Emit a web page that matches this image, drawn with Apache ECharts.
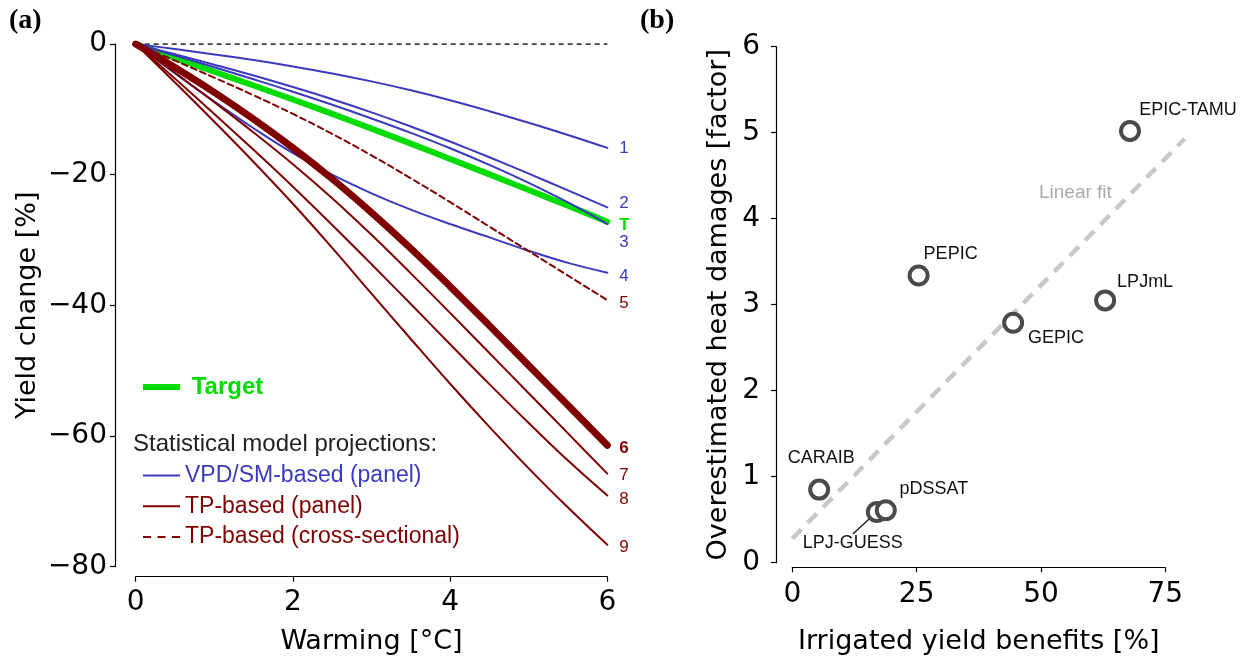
<!DOCTYPE html>
<html><head><meta charset="utf-8">
<script src="https://cdn.jsdelivr.net/npm/echarts@6/dist/echarts.min.js"></script>
<style>html,body{margin:0;padding:0;background:#fff}#c{width:1250px;height:664px}</style>
</head><body><div id="c"></div>
<script>
// ---------- Panel (a) data ----------
const warming = [0, 0.5, 1, 1.5, 2, 2.5, 3, 3.5, 4, 4.5, 5, 5.5, 6];
const vpd1   = [0, -0.77, -1.59, -2.46, -3.43, -4.5, -5.72, -7.09, -8.61, -10.28, -12.05, -13.92, -15.9];
const vpd2   = [0, -1.56, -3.17, -4.83, -6.59, -8.45, -10.46, -12.62, -14.93, -17.34, -19.85, -22.41, -25.0];
const vpd3   = [0, -1.75, -3.55, -5.4, -7.3, -9.3, -11.4, -13.6, -15.95, -18.5, -21.25, -24.25, -27.55];
const vpd4   = [0, -4.5, -8.8, -12.9, -16.7, -20.0, -22.85, -25.35, -27.55, -29.6, -31.65, -33.5, -35.0];
const target = [0, -2.15, -4.25, -6.35, -8.5, -10.7, -12.95, -15.25, -17.6, -19.95, -22.35, -24.75, -27.2];
const tpCross = [0, -2.55, -5.15, -7.85, -10.7, -13.75, -17.05, -20.55, -24.2, -27.95, -31.7, -35.45, -39.2];
const tp6    = [0, -3.6, -7.4, -11.5, -15.9, -20.65, -25.8, -31.3, -37.1, -43.1, -49.2, -55.3, -61.4];
const tp7    = [0, -4.4, -8.9, -13.55, -18.4, -23.6, -29.2, -35.1, -41.15, -47.3, -53.45, -59.6, -65.75];
const tp8    = [0, -5.3, -10.7, -16.2, -21.85, -27.7, -33.7, -39.8, -45.95, -52.05, -58.0, -63.75, -69.1];
const tp9    = [0, -5.9, -11.9, -18.05, -24.45, -31.2, -38.2, -45.15, -52.0, -58.6, -64.95, -70.95, -76.65];
const zeroX = [0, 6];
const zeroY = [0, 0];
const xTicksA = [0, 2, 4, 6];
const yTicksA = [-80, -60, -40, -20, 0];

// ---------- Panel (b) data ----------
const models = ['EPIC-TAMU', 'PEPIC', 'LPJmL', 'GEPIC', 'CARAIB', 'LPJ-GUESS', 'pDSSAT'];
const irrigatedBenefit = [67.9, 25.4, 62.9, 44.4, 5.4, 17.0, 18.8];
const heatFactor = [5.02, 3.34, 3.05, 2.79, 0.85, 0.59, 0.61];
const fitX = [0, 78.9];
const fitY = [0.28, 4.93];
const xTicksB = [0, 25, 50, 75];
const xDataMaxB = 80;           // plotting range (fit line runs past the last tick)
const yTicksB = [0, 1, 2, 3, 4, 5, 6];

// ---------- styles / positions (kept separate from data) ----------
const BLUE = '#3a3abf', RED = '#800000', GREEN = '#00dc00';
const labelOffsetB = {
  'EPIC-TAMU': [58, -21], 'PEPIC': [32, -21], 'LPJmL': [40, -18], 'GEPIC': [43, 15],
  'CARAIB': [2, -32], 'LPJ-GUESS': [-24, 31], 'pDSSAT': [48, -21]
};
const SOLID_ICON = 'path://M0,0h37v2h-37z';
const DASH_ICON = 'path://M0,0h8v2h-8z M14.5,0h8v2h-8z M29,0h8v2h-8z';

const pairs = (xs, ys) => xs.map((x, i) => [x, ys[i]]);
const minus = v => String(v).replace('-', '\u2212');

function curve(name, ys, color, width, dash, lbl, dy, bold) {
  return {
    type: 'line', name: name, xAxisIndex: 0, yAxisIndex: 0,
    data: pairs(warming, ys), smooth: 0.4, symbol: 'none', showSymbol: false,
    lineStyle: { color: color, width: width, type: dash || 'solid', cap: 'round' },
    itemStyle: { color: color },
    endLabel: {
      show: true, formatter: lbl, color: color, distance: 12, offset: [0, dy],
      fontFamily: 'Liberation Sans', fontSize: 17, fontWeight: bold ? 'bold' : 'normal'
    },
    emphasis: { disabled: true }, silent: true
  };
}

const axisCommon = {
  type: 'value', splitLine: { show: false },
  axisLine: { show: true, onZero: false, lineStyle: { color: '#000', width: 1.2 } },
  axisTick: { show: true, length: 5, lineStyle: { color: '#000', width: 1.2 } },
  nameLocation: 'middle',
  nameTextStyle: { fontFamily: 'DejaVu Sans', fontSize: 27, color: '#000' }
};
const tickLbl = { fontFamily: 'DejaVu Sans', fontSize: 28, color: '#000' };
const gridBTop = 46.7, gridBH = 516, gridBLeft = 792.3, gridBW = 373;

const option = {
  animation: false,
  backgroundColor: '#fff',
  title: [
    { text: '(a)', left: 9, top: 7, padding: 0,
      textStyle: { fontFamily: 'Liberation Serif', fontWeight: 'bold', fontSize: 28, color: '#000' } },
    { text: '(b)', left: 640, top: 7, padding: 0,
      textStyle: { fontFamily: 'Liberation Serif', fontWeight: 'bold', fontSize: 28, color: '#000' } },
    { text: 'Statistical model projections:', left: 133, top: 432, padding: 0,
      textStyle: { fontFamily: 'Liberation Sans', fontWeight: 'normal', fontSize: 24, color: '#222' } },
    { text: 'Linear fit', left: 1039, top: 183, padding: 0,
      textStyle: { fontFamily: 'Liberation Sans', fontWeight: 'normal', fontSize: 19, color: '#aaaaaa' } }
  ],
  legend: [
    { data: [{ name: 'Target', icon: 'rect', textStyle: { color: GREEN } }],
      formatter: ' {name}', left: 143, top: 375, padding: 0, orient: 'vertical',
      itemWidth: 37, itemHeight: 6, selectedMode: false,
      textStyle: { fontFamily: 'Liberation Sans', fontWeight: 'bold', fontSize: 24, lineHeight: 24 } },
    { data: [
        { name: 'VPD/SM-based (panel)', icon: SOLID_ICON, itemStyle: { color: BLUE }, textStyle: { color: BLUE } },
        { name: 'TP-based (panel)', icon: SOLID_ICON, itemStyle: { color: RED }, textStyle: { color: RED } },
        { name: 'TP-based (cross-sectional)', icon: DASH_ICON, itemStyle: { color: RED }, textStyle: { color: RED } }
      ],
      left: 143, top: 464, padding: 0, orient: 'vertical', itemGap: 7.8,
      itemWidth: 37, itemHeight: 2, selectedMode: false,
      textStyle: { fontFamily: 'Liberation Sans', fontSize: 23, lineHeight: 20 } }
  ],
  grid: [
    { left: 135.7, top: 44, width: 471.6, height: 522.7 },
    { left: gridBLeft, top: gridBTop, width: gridBW * xDataMaxB / xTicksB[xTicksB.length - 1], height: gridBH },
    { left: gridBLeft, top: gridBTop, width: gridBW, height: gridBH }
  ],
  xAxis: [
    Object.assign({}, axisCommon, {
      gridIndex: 0, min: xTicksA[0], max: xTicksA[xTicksA.length - 1], interval: 2, offset: 10,
      name: 'Warming [°C]', nameGap: 52,
      axisLabel: Object.assign({ margin: 12 }, tickLbl)
    }),
    { type: 'value', gridIndex: 1, min: 0, max: xDataMaxB, show: false },
    Object.assign({}, axisCommon, {
      gridIndex: 2, min: xTicksB[0], max: xTicksB[xTicksB.length - 1], interval: 25, offset: 4.6,
      name: 'Irrigated yield benefits [%]', nameGap: 61,
      axisLabel: Object.assign({ margin: 13 }, tickLbl)
    })
  ],
  yAxis: [
    Object.assign({}, axisCommon, {
      gridIndex: 0, min: yTicksA[0], max: yTicksA[yTicksA.length - 1], interval: 20, offset: 20.7,
      name: 'Yield change [%]', nameGap: 74,
      axisLabel: Object.assign({ margin: 8, formatter: minus }, tickLbl)
    }),
    Object.assign({}, axisCommon, {
      gridIndex: 1, min: yTicksB[0], max: yTicksB[yTicksB.length - 1], interval: 1, offset: 16.3,
      name: 'Overestimated heat damages [factor]', nameGap: 44,
      axisLabel: Object.assign({ margin: 16 }, tickLbl)
    }),
    { type: 'value', gridIndex: 2, min: yTicksB[0], max: yTicksB[yTicksB.length - 1], show: false }
  ],
  series: [
    { type: 'line', name: 'zero', xAxisIndex: 0, yAxisIndex: 0, data: pairs(zeroX, zeroY),
      symbol: 'none', silent: true, lineStyle: { color: '#000', width: 1.5, type: [5, 4] } },
    curve('Target', target, GREEN, 6, null, 'T', 4, true),
    curve('VPD/SM-based (panel)', vpd1, BLUE, 2, null, '1', 0),
    curve('VPD/SM-based (panel)', vpd2, BLUE, 2, null, '2', -4),
    curve('VPD/SM-based (panel)', vpd3, BLUE, 2, null, '3', 18),
    curve('VPD/SM-based (panel)', vpd4, BLUE, 2, null, '4', 4),
    curve('TP-based (panel)', tp7, RED, 2, null, '7', 2),
    curve('TP-based (panel)', tp8, RED, 2, null, '8', 4),
    curve('TP-based (panel)', tp9, RED, 2, null, '9', 2.5),
    curve('TP-based (panel)', tp6, RED, 7, null, '6', 3, true),
    curve('TP-based (cross-sectional)', tpCross, RED, 2, [6, 4], '5', 3.5),
    { type: 'line', name: 'Linear fit', xAxisIndex: 1, yAxisIndex: 1, data: pairs(fitX, fitY),
      symbol: 'none', silent: true, z: 1,
      lineStyle: { color: '#c8c8c8', width: 4.5, type: [13, 9] } },
    { type: 'scatter', name: 'models', xAxisIndex: 1, yAxisIndex: 1, z: 3,
      symbol: 'circle', symbolSize: 18, silent: true,
      itemStyle: { color: '#ffffff', borderColor: '#4a4a4a', borderWidth: 4, opacity: 1 },
      label: { show: true, position: 'inside', formatter: '{b}', color: '#111',
               fontFamily: 'Liberation Sans', fontSize: 18 },
      labelLayout: function (params) {
        const o = labelOffsetB[models[params.dataIndex]];
        return { dx: o[0], dy: o[1] };
      },
      data: models.map((m, i) => {
        const d = { name: m, value: [irrigatedBenefit[i], heatFactor[i]] };
        if (m === 'LPJ-GUESS') d.labelLine = { show: true, length2: 0, lineStyle: { color: '#111', width: 1.3 } };
        return d;
      })
    }
  ]
};
const chart = echarts.init(document.getElementById('c'));
chart.setOption(option);
</script></body></html>
